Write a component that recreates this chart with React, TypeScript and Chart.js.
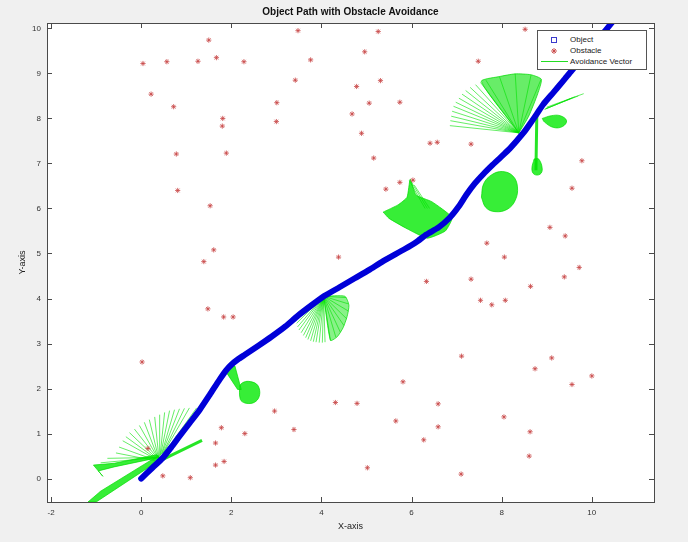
import React, { useEffect, useRef } from 'react';
import { Chart, registerables } from 'chart.js';
Chart.register(...registerables);

type Seg = [number, number, number, number];
type Pt = [number, number];

const TITLE = 'Object Path with Obstacle Avoidance';
const X_LABEL = 'X-axis';
const Y_LABEL = 'Y-axis';
const LEGEND_LABELS = ['Object', 'Obstacle', 'Avoidance Vector'];
const xTicks = [-2, 0, 2, 4, 6, 8, 10];
const yTicks = [0, 1, 2, 3, 4, 5, 6, 7, 8, 9, 10];
const X_RANGE: Pt = [-2.09, 11.38];
const Y_RANGE: Pt = [-0.52, 10.12];

// object path
const pathX = [0, 0.25, 0.48, 0.67, 0.85, 1.08, 1.3, 1.52, 1.74, 1.88, 2.0, 2.15, 2.3, 2.6, 2.89, 3.2, 3.48, 3.78, 4.07, 4.4, 4.74, 5.05, 5.37, 5.85, 6.1, 6.33, 6.6, 6.85, 7.05, 7.22, 7.4, 7.59, 7.78, 7.96, 8.15, 8.33, 8.5, 8.63, 8.78, 8.92, 9.15, 9.37, 9.55, 9.74, 9.93, 10.11, 10.3, 10.48];
const pathY = [0, 0.24, 0.46, 0.7, 0.94, 1.24, 1.53, 1.86, 2.2, 2.4, 2.53, 2.65, 2.75, 2.95, 3.15, 3.38, 3.62, 3.85, 4.06, 4.25, 4.45, 4.63, 4.83, 5.1, 5.25, 5.42, 5.58, 5.8, 6.05, 6.31, 6.55, 6.76, 6.95, 7.12, 7.3, 7.5, 7.7, 7.88, 8.1, 8.31, 8.58, 8.84, 9.06, 9.28, 9.5, 9.73, 9.95, 10.17];

// obstacles
const obstacleX = [3.48, 1.5, 0.04, 0.57, 1.26, 1.67, 2.28, 3.76, 3.42, 0.22, 0.72, 3.01, 1.81, 1.8, 3.0, 4.68, 0.78, 1.89, 0.81, 1.53, 1.61, 1.39, 4.38, 5.26, 8.52, 4.96, 7.48, 5.31, 4.78, 5.06, 5.74, 4.89, 6.41, 6.57, 7.32, 5.16, 9.78, 5.74, 5.43, 9.56, 9.07, 9.41, 7.67, 8.06, 1.48, 1.83, 2.04, 0.02, 4.31, 2.96, 3.39, 2.3, 1.78, 1.65, 0.15, 1.65, 1.84, 0.48, 1.09, 9.72, 9.39, 6.33, 7.32, 8.64, 7.53, 7.78, 8.08, 7.11, 9.11, 8.74, 10.0, 9.56, 5.81, 4.79, 6.59, 5.65, 6.59, 6.27, 8.05, 8.63, 8.61, 5.02, 7.1, 6.03];
const obstacleY = [9.95, 9.74, 9.22, 9.26, 9.27, 9.35, 9.26, 9.3, 8.85, 8.54, 8.26, 8.35, 8.0, 7.83, 7.93, 8.1, 7.21, 7.23, 6.4, 6.06, 5.08, 4.82, 4.92, 9.93, 9.98, 9.48, 9.27, 8.84, 8.71, 8.34, 8.36, 7.67, 7.45, 7.47, 7.43, 7.12, 7.06, 6.58, 6.43, 6.45, 5.58, 5.39, 5.23, 4.92, 3.77, 3.59, 3.59, 2.59, 1.69, 1.5, 1.09, 1.0, 1.13, 0.79, 0.67, 0.3, 0.38, 0.06, 0.02, 4.69, 4.48, 4.38, 4.43, 4.27, 3.96, 3.86, 3.96, 2.72, 2.68, 2.44, 2.28, 2.09, 2.15, 1.67, 1.66, 1.28, 1.15, 0.86, 1.37, 1.04, 0.5, 0.24, 0.1, 6.63];

// avoidance vectors [x0, y0, x1, y1]
const fanStartVectors: Seg[] = [
  [0.3, 0.4, -0.56, 0.57], [0.31, 0.41, -0.49, 0.7], [0.32, 0.43, -0.41, 0.84], [0.33, 0.44, -0.34, 0.93],
  [0.34, 0.45, -0.26, 1.02], [0.35, 0.46, -0.15, 1.1], [0.36, 0.47, -0.04, 1.18], [0.37, 0.47, 0.07, 1.25],
  [0.38, 0.48, 0.18, 1.31], [0.39, 0.49, 0.3, 1.37], [0.4, 0.5, 0.41, 1.42], [0.42, 0.51, 0.52, 1.47],
  [0.43, 0.52, 0.63, 1.51], [0.45, 0.54, 0.74, 1.53], [0.46, 0.55, 0.85, 1.55], [0.48, 0.56, 0.96, 1.56],
  [0.5, 0.58, 1.07, 1.57], [0.55, 0.62, 1.23, 1.57], [0.36, 0.47, -0.75, 0.45], [0.36, 0.47, -0.9, 0.35],
];
const fanMidVectors: Seg[] = [
  [4.05, 4.05, 3.45, 3.45], [4.05, 4.05, 3.47, 3.37], [4.05, 4.05, 3.5, 3.3], [4.05, 4.05, 3.55, 3.24],
  [4.05, 4.05, 3.6, 3.18], [4.05, 4.05, 3.65, 3.13], [4.05, 4.05, 3.7, 3.09], [4.05, 4.05, 3.76, 3.06],
  [4.05, 4.05, 3.82, 3.04], [4.05, 4.05, 3.88, 3.03], [4.05, 4.05, 3.95, 3.02], [4.05, 4.05, 4.02, 3.02],
  [4.05, 4.05, 4.08, 3.03], [4.05, 4.05, 4.2, 3.07], [4.05, 4.05, 4.32, 3.14], [4.05, 4.05, 4.42, 3.25],
  [4.05, 4.05, 4.5, 3.4], [4.05, 4.05, 4.56, 3.55], [4.05, 4.05, 4.6, 3.72], [4.05, 4.05, 4.6, 3.88],
  [4.05, 4.05, 4.55, 4.02],
];
const fanUpperVectors: Seg[] = [
  [8.38, 7.68, 6.85, 7.84], [8.38, 7.68, 6.86, 7.95], [8.38, 7.68, 6.88, 8.05], [8.38, 7.68, 6.9, 8.16],
  [8.38, 7.68, 6.93, 8.27], [8.38, 7.68, 6.98, 8.36], [8.38, 7.68, 7.05, 8.45], [8.38, 7.68, 7.12, 8.54],
  [8.38, 7.68, 7.2, 8.62], [8.38, 7.68, 7.3, 8.69], [8.38, 7.68, 7.42, 8.75], [8.38, 7.68, 7.53, 8.8],
  [8.38, 7.68, 7.65, 8.85], [8.38, 7.68, 7.95, 8.93], [8.38, 7.68, 8.3, 8.99], [8.38, 7.68, 8.65, 8.96],
  [8.38, 7.68, 8.87, 8.86],
  [6.3, 6.0, 5.95, 6.62], [6.35, 6.0, 6.0, 6.58], [6.4, 6.0, 6.06, 6.52],
  [8.95, 8.2, 9.55, 8.45], [8.97, 8.21, 9.62, 8.48], [8.98, 8.22, 9.7, 8.5], [9.0, 8.25, 9.82, 8.55],
];
const thickVectors: Seg[] = [
  [0.47, 0.42, 1.35, 0.85], [8.78, 8.1, 8.76, 6.85],
];

// dense regions of overlapping vectors
const wedgeUpper: Pt[] = [[-1.06, 0.3], [-0.6, 0.34], [0.35, 0.53], [0.4, 0.47], [-0.6, 0.26], [-0.95, 0.17], [-0.85, 0.05]];
const wedgeLower: Pt[] = [[-1.18, -0.52], [-1.0, -0.52], [0.44, 0.43], [0.38, 0.51], [-0.9, -0.28]];
const blobTriangle: Pt[] = [[1.85, 2.42], [2.08, 2.5], [2.22, 1.98], [2.14, 1.98]];
const blobRound: Pt[] = [[2.18, 2.06], [2.2, 1.76], [2.3, 1.68], [2.48, 1.68], [2.6, 1.78], [2.63, 1.95], [2.56, 2.1], [2.38, 2.16], [2.25, 2.13]];
const fanMidDense: Pt[] = [[4.05, 4.05], [4.2, 3.07], [4.35, 3.15], [4.48, 3.35], [4.57, 3.6], [4.61, 3.85], [4.52, 4.05]];
const birdShape: Pt[] = [[5.37, 5.92], [5.7, 6.08], [5.9, 6.25], [5.97, 6.65], [6.1, 6.3], [6.45, 6.15], [6.9, 5.8], [6.75, 5.5], [6.35, 5.34], [5.9, 5.55], [5.5, 5.78]];
const ellipseShape: Pt[] = [[7.55, 6.25], [7.6, 6.55], [7.78, 6.75], [8.02, 6.82], [8.25, 6.72], [8.35, 6.48], [8.3, 6.18], [8.12, 5.98], [7.85, 5.93], [7.65, 6.02]];
const fanUpperDense: Pt[] = [[8.38, 7.68], [7.55, 8.82], [7.95, 8.93], [8.3, 8.99], [8.65, 8.97], [8.88, 8.87], [8.8, 8.55], [8.6, 8.05]];
const dropShape: Pt[] = [[8.72, 7.1], [8.67, 6.88], [8.72, 6.76], [8.85, 6.76], [8.9, 6.88], [8.82, 7.1]];
const leafShape: Pt[] = [[8.9, 8.0], [9.1, 8.06], [9.3, 8.06], [9.44, 7.95], [9.35, 7.82], [9.15, 7.8], [8.95, 7.92]];

const GREEN_LINE = 'rgba(0,225,0,0.6)';
const GREEN_FILL = 'rgba(20,235,20,0.85)';
const FONT = '"Liberation Sans", Arial, Helvetica, sans-serif';

const segData = (segs: Seg[]) => {
  const out: { x: number; y: number | null }[] = [];
  segs.forEach(([a, b, c, d]) => {
    out.push({ x: a, y: b }, { x: c, y: d }, { x: c, y: null });
  });
  return out;
};

const polyDataset = (pts: Pt[], tension = 0.2, fillColor = GREEN_FILL) => ({
  type: 'line' as const,
  data: [...pts, pts[0]].map(([x, y]) => ({ x, y })),
  borderColor: 'rgba(0,220,0,0.7)',
  backgroundColor: fillColor,
  borderWidth: 1,
  pointRadius: 0,
  fill: 'shape',
  tension,
  order: 3,
});

const frame = {
  id: 'frame',
  beforeDraw(chart: any) {
    const { ctx, chartArea: a } = chart;
    ctx.save();
    ctx.fillStyle = '#f0f0f0';
    ctx.fillRect(0, 0, chart.width, chart.height);
    ctx.fillStyle = '#ffffff';
    ctx.fillRect(a.left, a.top, a.right - a.left, a.bottom - a.top);
    ctx.restore();
  },
  afterDatasetsDraw(chart: any) {
    const { ctx, chartArea: a, scales } = chart;
    ctx.save();
    ctx.strokeStyle = '#4a4a4a';
    ctx.lineWidth = 1;
    ctx.strokeRect(Math.round(a.left) + 0.5, Math.round(a.top) + 0.5, Math.round(a.right - a.left), Math.round(a.bottom - a.top));
    ctx.beginPath();
    xTicks.forEach((v) => {
      const px = Math.round(scales.x.getPixelForValue(v)) + 0.5;
      ctx.moveTo(px, a.bottom); ctx.lineTo(px, a.bottom - 5);
      ctx.moveTo(px, a.top); ctx.lineTo(px, a.top + 5);
    });
    yTicks.forEach((v) => {
      const py = Math.round(scales.y.getPixelForValue(v)) + 0.5;
      ctx.moveTo(a.left, py); ctx.lineTo(a.left + 5, py);
      ctx.moveTo(a.right, py); ctx.lineTo(a.right - 5, py);
    });
    ctx.stroke();
    ctx.restore();
  },
};

export default function App() {
  const ref = useRef<HTMLCanvasElement>(null);
  useEffect(() => {
    if (!ref.current) return;
    Chart.defaults.font.family = FONT;
    const chart = new Chart(ref.current, {
      type: 'line',
      data: {
        datasets: [
          {
            label: LEGEND_LABELS[0],
            data: pathX.map((x, i) => ({ x, y: pathY[i] })),
            borderColor: '#0000d8',
            borderWidth: 6,
            pointRadius: 0,
            tension: 0.2,
            borderCapStyle: 'round',
            order: 0,
          },
          {
            label: LEGEND_LABELS[1],
            data: obstacleX.map((x, i) => ({ x, y: obstacleY[i] })),
            showLine: false,
            pointStyle: 'star',
            pointRadius: 2.6,
            borderWidth: 1,
            borderColor: 'rgba(200,70,70,0.8)',
            backgroundColor: 'rgba(200,70,70,0.8)',
            order: 1,
          },
          {
            label: LEGEND_LABELS[2],
            data: segData([...fanStartVectors, ...fanMidVectors, ...fanUpperVectors]),
            borderColor: GREEN_LINE,
            borderWidth: 1,
            pointRadius: 0,
            spanGaps: false,
            order: 2,
          },
          {
            label: 'thick',
            data: segData(thickVectors),
            borderColor: 'rgba(0,225,0,0.85)',
            borderWidth: 3,
            pointRadius: 0,
            spanGaps: false,
            order: 2,
          },
          polyDataset(wedgeUpper, 0),
          polyDataset(wedgeLower, 0),
          polyDataset(blobTriangle, 0),
          polyDataset(blobRound, 0.35),
          polyDataset(fanMidDense, 0.2, 'rgba(40,230,40,0.55)'),
          polyDataset(birdShape, 0.15),
          polyDataset(ellipseShape, 0.4),
          polyDataset(fanUpperDense, 0.2, 'rgba(40,230,40,0.7)'),
          polyDataset(dropShape, 0.4),
          polyDataset(leafShape, 0.4),
        ] as any,
      },
      options: {
        animation: false,
        responsive: false,
        layout: { padding: { left: 0, right: 34, top: 0, bottom: 0 } },
        plugins: {
          legend: { display: false },
          tooltip: { enabled: false },
          title: {
            display: true,
            text: TITLE,
            fullSize: false,
            color: '#111',
            font: { size: 10, weight: 'bold', family: FONT },
            padding: { top: 6, bottom: 5 },
          },
        },
        scales: {
          x: {
            type: 'linear',
            min: X_RANGE[0],
            max: X_RANGE[1],
            afterBuildTicks: (s: any) => { s.ticks = xTicks.map((value) => ({ value })); },
            afterFit: (s: any) => { s.height = 40; },
            grid: { display: false, drawTicks: false },
            border: { display: false },
            ticks: { color: '#333', font: { size: 8 }, padding: 6, maxRotation: 0 },
            title: { display: true, text: X_LABEL, color: '#222', font: { size: 9 }, padding: { top: 0, bottom: 10 } },
          },
          y: {
            type: 'linear',
            min: Y_RANGE[0],
            max: Y_RANGE[1],
            afterBuildTicks: (s: any) => { s.ticks = yTicks.map((value) => ({ value })); },
            afterFit: (s: any) => { s.width = 47; },
            grid: { display: false, drawTicks: false },
            border: { display: false },
            ticks: { color: '#333', font: { size: 8 }, padding: 6 },
            title: { display: true, text: Y_LABEL, color: '#222', font: { size: 9 }, padding: { top: 17, bottom: 0 } },
          },
        },
      } as any,
      plugins: [frame],
    });
    return () => chart.destroy();
  }, []);

  const rowStyle: React.CSSProperties = { position: 'absolute', left: 0, height: 11, width: '100%', display: 'flex', alignItems: 'center' };
  return (
    <div style={{ position: 'fixed', left: 0, top: 0, width: 688, height: 542, background: '#f0f0f0' }}>
      <canvas ref={ref} width={688} height={542} style={{ display: 'block' }} />
      <div style={{ position: 'absolute', left: 537, top: 30, width: 108, height: 38, background: '#fff', border: '1px solid #555', fontFamily: FONT, fontSize: 8, color: '#222' }}>
        <div style={{ ...rowStyle, top: 3 }}>
          <svg width={32} height={11}><rect x={13.5} y={3.5} width={5} height={5} fill="none" stroke="#3a3acc" strokeWidth={1} /></svg>
          <span>{LEGEND_LABELS[0]}</span>
        </div>
        <div style={{ ...rowStyle, top: 14 }}>
          <svg width={32} height={11}>
            <path d="M16 3 L16 9 M13 6 L19 6 M14 4 L18 8 M18 4 L14 8" stroke="rgba(200,70,70,0.9)" strokeWidth={1} />
          </svg>
          <span>{LEGEND_LABELS[1]}</span>
        </div>
        <div style={{ ...rowStyle, top: 25 }}>
          <svg width={32} height={11}><line x1={3} y1={5.5} x2={30} y2={5.5} stroke="#22dd22" strokeWidth={1} /></svg>
          <span>{LEGEND_LABELS[2]}</span>
        </div>
      </div>
    </div>
  );
}
